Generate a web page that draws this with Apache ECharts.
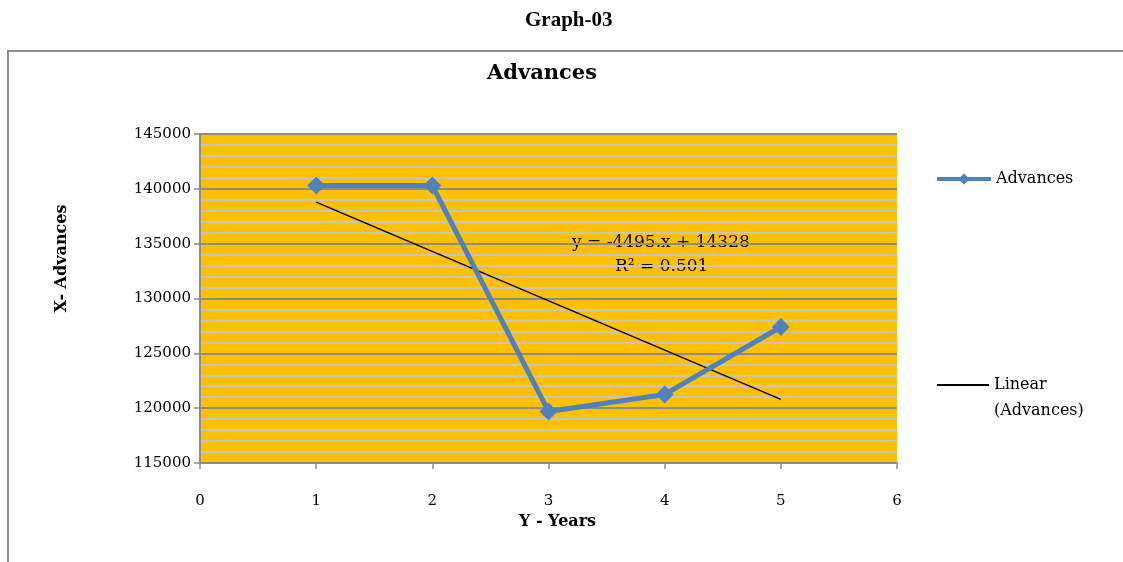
<!DOCTYPE html>
<html>
<head>
<meta charset="utf-8">
<title>Advances</title>
<script src="https://cdn.jsdelivr.net/npm/echarts@6/dist/echarts.min.js"></script>
<style>
  html, body { margin: 0; padding: 0; background: #ffffff; }
  #chart { width: 1123px; height: 562px; }
</style>
</head>
<body>
<div id="chart"></div>
<script>
// Years on the horizontal axis and the advances recorded for each year
const years = [1, 2, 3, 4, 5];
const advances = [140300, 140300, 119700, 121250, 127400];

// Linear trend fitted to the advances (slope and intercept)
const trendSlope = -4495;
const trendIntercept = 143280;
const trendLabelLines = ['y = -4495.x + 14328', 'R\u00B2 = 0.501'];

// Axis ranges and tick spacing
const xTicks = { min: 0, max: 6, interval: 1 };
const yTicks = { min: 115000, max: 145000, interval: 5000 };

const serif = 'DejaVu Serif';

const pairs = years.map((y, i) => [y, advances[i]]);
const trendPoints = [years[0], years[years.length - 1]].map(x => [x, trendIntercept + trendSlope * x]);

const chart = echarts.init(document.getElementById('chart'), null, { renderer: 'canvas' });

chart.setOption({
  backgroundColor: '#ffffff',
  animation: false,
  title: [
    {
      text: 'Graph-03',
      left: 520,
      top: 5,
      textStyle: { fontFamily: 'Liberation Serif', fontWeight: 'bold', fontSize: 21, color: '#000' }
    },
    {
      text: 'Advances',
      left: 482,
      top: 58,
      textStyle: { fontFamily: serif, fontWeight: 'bold', fontSize: 21, color: '#000' }
    }
  ],
  graphic: [
    {
      type: 'rect',
      silent: true,
      shape: { x: 8, y: 51, width: 1300, height: 700 },
      style: { fill: 'none', stroke: '#8c8c8c', lineWidth: 2 }
    },
    {
      type: 'text',
      left: 572,
      top: 234,
      style: { text: trendLabelLines[0], font: '17px "DejaVu Serif"', fill: '#000' }
    },
    {
      type: 'text',
      left: 615,
      top: 258,
      style: { text: trendLabelLines[1], font: '17px "DejaVu Serif"', fill: '#000' }
    }
  ],
  legend: [
    {
      data: ['Advances'],
      orient: 'vertical',
      left: 935,
      top: 171,
      padding: 0,
      itemWidth: 54,
      itemHeight: 14,
      itemGap: 0,
      lineStyle: { width: 4 },
      textStyle: { fontFamily: serif, fontSize: 16, color: '#000' }
    },
    {
      data: [{ name: 'Linear (Advances)', icon: 'rect' }],
      orient: 'vertical',
      left: 937,
      top: 346,
      padding: 0,
      itemWidth: 52,
      itemHeight: 2,
      formatter: () => ' \nLinear\n(Advances)',
      textStyle: { fontFamily: serif, fontSize: 16, color: '#000', lineHeight: 26 }
    }
  ],
  grid: {
    left: 200,
    right: 226,
    top: 134,
    bottom: 99,
    show: true,
    backgroundColor: '#FFC000',
    borderWidth: 0
  },
  xAxis: {
    type: 'value',
    min: xTicks.min,
    max: xTicks.max,
    interval: xTicks.interval,
    name: 'Y - Years',
    nameLocation: 'middle',
    nameGap: 50,
    nameTextStyle: { fontFamily: serif, fontWeight: 'bold', fontSize: 16, color: '#000', padding: [0, 0, 0, 18] },
    axisLine: { show: true, lineStyle: { color: '#8c8c8c', width: 2 } },
    axisTick: { show: true, inside: false, length: 6, lineStyle: { color: '#8c8c8c', width: 1.5 } },
    axisLabel: { margin: 31, fontFamily: serif, fontSize: 15, color: '#000' },
    splitLine: { show: false }
  },
  yAxis: {
    type: 'value',
    min: yTicks.min,
    max: yTicks.max,
    interval: yTicks.interval,
    name: 'X- Advances',
    nameLocation: 'middle',
    nameRotate: 90,
    nameGap: 130,
    nameTextStyle: { fontFamily: serif, fontWeight: 'bold', fontSize: 16, color: '#000', padding: [0, 0, 0, 80] },
    axisLine: { show: true, lineStyle: { color: '#8c8c8c', width: 2 } },
    axisTick: { show: true, inside: false, length: 6, lineStyle: { color: '#8c8c8c', width: 1.5 } },
    axisLabel: { margin: 9, fontFamily: serif, fontSize: 15, color: '#000', formatter: v => String(v) },
    splitLine: { show: true, lineStyle: { color: '#8c8c8c', width: 2 } },
    minorTick: { show: false, splitNumber: 5 },
    minorSplitLine: { show: true, lineStyle: { color: '#c4c4c4', width: 2 } }
  },
  series: [
    {
      name: 'Advances',
      type: 'line',
      data: pairs,
      symbol: 'diamond',
      symbolSize: 18,
      lineStyle: { color: '#4F81BD', width: 5 },
      itemStyle: { color: '#4F81BD' },
      z: 3
    },
    {
      name: 'Linear (Advances)',
      type: 'line',
      data: trendPoints,
      symbol: 'none',
      lineStyle: { color: '#000000', width: 1.5 },
      itemStyle: { color: '#000000' },
      z: 2
    }
  ]
});
</script>
</body>
</html>
